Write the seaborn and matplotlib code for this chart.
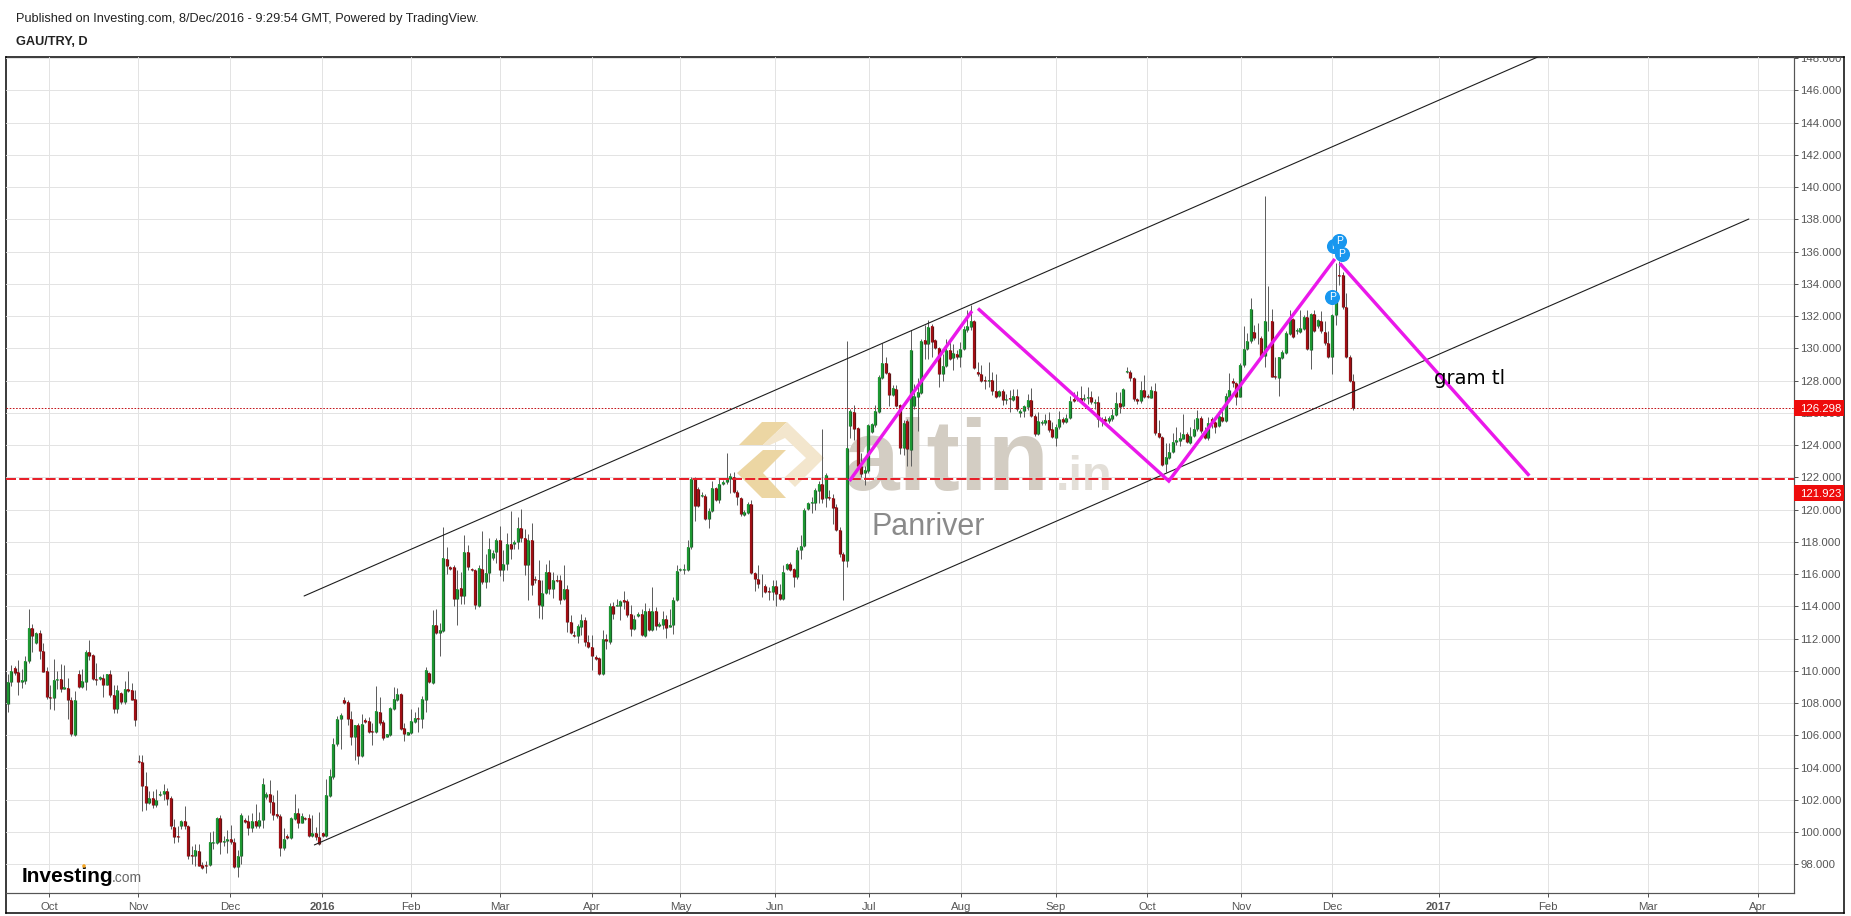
import numpy as np
import pandas as pd
import seaborn as sns
import matplotlib.pyplot as plt
from matplotlib.patches import Polygon, Rectangle, Circle
from matplotlib.transforms import Affine2D

W, H = 1851, 916

# daily candles
opens = [
    107.95, 109.30, 110.2, 109.9, 109.32, 109.36, 110.6, 112.67, 111.72, 112.36,
    111.25, 109.96, 108.38, 108.3, 109.4, 109.5, 108.87, 108.95, 108.2, 106.0,
    109.78, 108.97, 109.3, 111.16, 110.96, 109.5, 109.47, 109.57, 109.1, 109.78,
    108.5, 107.62, 108.6, 108.04, 108.89, 108.78, 108.26, 104.39, 104.35, 102.86,
    101.78, 102.14, 101.68, 102.3, 102.34, 102.55, 102.12, 100.31, 99.78, 100.4,
    100.71, 100.38, 98.58, 98.49, 98.84, 97.95, 97.95, 97.97, 99.32, 99.32,
    100.89, 99.38, 99.42, 99.59, 99.37, 97.83, 98.54, 100.77, 100.71, 100.26,
    100.67, 100.38, 100.77, 102.18, 102.33, 101.85, 101.1, 100.98, 99.01, 99.74,
    99.64, 100.82, 101.15, 100.57, 100.88, 100.84, 99.76, 99.93, 99.7, 99.93,
    99.76, 102.24, 103.42, 105.43, 106.99, 108.17, 108.04, 106.99, 105.91, 106.61,
    104.71, 106.94, 106.86, 106.26, 106.22, 107.44, 106.8, 105.91, 106.01, 107.65,
    108.21, 108.56, 106.43, 106.03, 106.16, 106.82, 107.07, 106.99, 108.19, 109.84,
    109.26, 112.82, 112.37, 112.49, 116.92, 116.45, 116.43, 114.45, 115.16, 114.64,
    117.39, 116.33, 116.27, 114.04, 116.33, 115.51, 116.07, 116.98, 117.37, 118.14,
    116.25, 116.63, 117.89, 117.89, 117.99, 118.88, 118.26, 116.56, 118.14, 115.71,
    115.65, 114.0, 114.84, 116.15, 115.07, 115.65, 115.65, 114.43, 115.05, 113.0,
    112.19, 112.13, 112.71, 113.17, 111.8, 111.49, 110.83, 110.77, 109.79, 111.99,
    111.78, 114.04, 114.02, 114.02, 114.37, 114.31, 113.5, 112.57, 113.42, 113.5,
    112.13, 113.73, 112.55, 113.69, 112.8, 112.84, 113.19, 112.73, 112.84, 114.41,
    116.25, 116.28, 116.28, 117.69, 121.91, 121.25, 120.87, 120.87, 119.42, 119.94,
    121.31, 120.58, 121.58, 121.7, 121.91, 122.05, 121.08, 120.71, 119.69, 119.8,
    120.33, 116.07, 115.72, 115.41, 115.24, 114.93, 114.89, 115.26, 114.79, 114.46,
    116.32, 116.65, 116.3, 115.82, 117.52, 117.75, 120.05, 120.38, 120.42, 121.16,
    121.58, 120.69, 120.75, 120.71, 120.17, 118.76, 117.27, 116.82, 125.18, 126.07,
    125.04, 122.7, 122.28, 122.39, 124.83, 125.26, 126.07, 128.18, 129.07, 128.49,
    127.13, 127.46, 126.46, 123.81, 125.48, 123.72, 126.45, 127.01, 127.26, 130.49,
    130.26, 131.36, 130.49, 130.01, 128.4, 128.92, 129.87, 129.39, 129.66, 129.45,
    129.97, 131.11, 131.32, 131.67, 128.56, 128.42, 128.02, 127.98, 128.05, 127.38,
    127.03, 127.36, 126.82, 126.91, 126.82, 127.05, 126.0, 126.1, 126.39, 126.82,
    125.79, 124.67, 125.37, 125.37, 125.56, 125.0, 124.44, 125.11, 125.64, 125.42,
    125.69, 126.84, 126.87, 126.93, 126.87, 126.91, 126.99, 126.64, 126.68, 125.64,
    125.6, 125.5, 125.62, 125.89, 126.6, 126.41, 128.54, 128.52, 128.17, 126.84,
    126.72, 127.4, 127.05, 126.95, 127.34, 124.73, 124.53, 122.81, 123.18, 123.55,
    124.19, 124.28, 124.4, 124.67, 124.11, 124.59, 124.98, 125.71, 124.9, 124.42,
    125.64, 125.42, 125.17, 125.77, 125.5, 127.01, 127.96, 127.84, 127.01, 128.94,
    129.95, 130.45, 130.99, 130.67, 130.63, 129.52, 131.67, 131.71, 128.27, 128.19,
    129.43, 129.72, 130.92, 131.81, 131.05, 131.03, 131.23, 131.96, 129.87, 132.12,
    131.36, 131.71, 131.01, 130.32, 129.49, 132.06, 134.57, 134.53, 132.56, 129.49,
    128.0,
]
closes = [
    109.30, 109.98, 109.86, 109.3, 109.4, 110.63, 112.67, 112.16, 112.36, 111.23,
    109.92, 108.35, 108.33, 109.4, 109.5, 108.87, 109.0, 108.2, 106.05, 108.2,
    109.0, 109.34, 111.16, 110.9, 109.47, 109.42, 109.6, 109.11, 109.78, 108.47,
    107.62, 108.82, 108.06, 108.89, 108.74, 108.22, 106.92, 104.35, 102.84, 101.78,
    102.14, 101.66, 101.99, 102.36, 102.55, 102.07, 100.36, 99.71, 99.71, 100.71,
    100.36, 98.53, 98.49, 98.89, 97.91, 97.77, 97.89, 99.38, 99.38, 100.89,
    99.36, 99.47, 99.57, 99.37, 97.83, 98.54, 101.04, 100.65, 100.22, 100.67,
    100.38, 100.77, 103.01, 102.33, 101.85, 101.04, 100.98, 99.01, 99.59, 99.64,
    100.84, 101.15, 100.57, 100.98, 100.82, 99.76, 99.93, 99.68, 99.26, 99.76,
    102.27, 103.47, 105.49, 106.99, 107.25, 108.0, 106.99, 105.91, 106.61, 104.71,
    106.67, 106.82, 106.22, 106.2, 107.48, 106.74, 105.83, 106.05, 107.69, 108.23,
    108.56, 106.39, 106.07, 106.18, 106.86, 107.07, 106.99, 108.23, 110.03, 109.28,
    112.82, 112.37, 112.51, 116.99, 116.47, 116.34, 114.48, 115.09, 114.64, 117.39,
    116.44, 116.27, 114.06, 116.4, 115.51, 116.09, 117.58, 117.33, 118.14, 116.25,
    116.65, 117.89, 117.56, 118.01, 118.88, 118.26, 116.58, 118.14, 115.32, 115.61,
    114.08, 114.84, 116.15, 115.07, 115.65, 115.57, 114.39, 115.05, 113.02, 112.34,
    112.13, 112.75, 113.17, 111.76, 111.47, 110.91, 110.72, 109.79, 111.99, 111.84,
    114.04, 113.5, 114.06, 114.33, 114.29, 113.46, 112.57, 113.19, 113.5, 112.19,
    113.73, 112.51, 113.73, 112.75, 112.88, 113.19, 112.67, 112.86, 114.41, 116.21,
    116.29, 116.32, 117.69, 121.91, 120.23, 120.23, 120.92, 119.42, 119.94, 121.31,
    120.6, 121.58, 121.72, 121.93, 122.07, 121.08, 120.75, 119.71, 119.84, 120.36,
    116.07, 115.72, 115.37, 115.37, 114.89, 114.87, 115.28, 114.75, 114.46, 116.15,
    116.65, 116.28, 115.82, 117.52, 117.77, 120.0, 120.4, 120.48, 121.2, 121.58,
    120.63, 122.12, 120.69, 120.11, 118.72, 117.23, 116.82, 123.79, 126.11, 125.0,
    122.7, 122.2, 122.43, 125.22, 125.28, 126.09, 128.22, 129.07, 128.49, 127.11,
    127.52, 126.42, 123.81, 125.39, 123.76, 129.87, 127.03, 127.28, 130.47, 130.28,
    131.32, 130.39, 130.01, 128.38, 128.89, 129.87, 129.31, 129.72, 129.45, 129.97,
    131.17, 131.36, 131.67, 128.81, 128.4, 127.98, 127.96, 128.05, 127.34, 127.01,
    127.38, 126.8, 126.87, 126.84, 127.05, 126.22, 126.12, 126.43, 126.82, 125.79,
    124.67, 125.5, 125.44, 125.56, 124.92, 124.48, 125.13, 125.62, 125.42, 125.71,
    126.76, 126.74, 126.93, 126.72, 126.93, 126.99, 126.66, 126.7, 125.62, 125.52,
    125.5, 125.69, 125.89, 126.6, 126.39, 127.47, 128.58, 128.15, 126.84, 126.72,
    127.4, 126.97, 126.99, 127.42, 124.73, 124.53, 122.77, 123.24, 123.55, 124.22,
    124.3, 124.42, 124.67, 124.22, 124.57, 125.0, 125.71, 124.9, 124.46, 125.35,
    125.35, 125.15, 125.81, 125.5, 127.03, 127.42, 127.82, 127.01, 128.96, 129.95,
    130.45, 132.43, 130.63, 130.63, 129.49, 131.71, 131.71, 128.25, 128.21, 129.45,
    129.76, 130.94, 131.81, 130.72, 131.11, 131.25, 131.96, 129.95, 132.12, 131.07,
    131.73, 131.05, 130.3, 129.49, 132.06, 132.91, 134.51, 132.56, 129.49, 128.0,
    126.29,
]
highs = [
    109.82, 110.34, 110.29, 110.69, 110.13, 110.9, 113.81, 112.92, 112.4, 112.5,
    111.74, 110.23, 109.1, 110.75, 110.0, 110.44, 110.38, 109.57, 108.37, 108.74,
    110.07, 110.13, 111.3, 111.9, 111.06, 110.48, 109.7, 109.8, 109.8, 110.07,
    109.1, 109.1, 108.68, 109.34, 109.96, 109.26, 108.78, 104.75, 104.8, 103.75,
    102.57, 102.57, 102.67, 102.57, 102.99, 102.74, 102.26, 100.81, 100.4, 100.77,
    101.64, 100.46, 99.16, 99.26, 99.26, 98.12, 98.22, 100.02, 100.08, 100.96,
    101.06, 99.78, 100.13, 100.42, 99.6, 98.87, 101.15, 100.84, 101.04, 101.15,
    101.73, 101.25, 103.36, 102.49, 103.22, 102.29, 102.6, 101.1, 100.22, 99.9,
    100.94, 102.39, 101.46, 101.15, 100.94, 101.1, 101.04, 100.32, 101.25, 100.0,
    103.26, 103.9, 105.85, 107.19, 107.36, 108.35, 108.19, 107.5, 106.63, 106.74,
    107.32, 107.05, 107.15, 106.74, 109.06, 108.39, 106.94, 106.07, 107.77, 108.97,
    108.91, 108.6, 106.74, 106.22, 107.61, 107.46, 107.77, 108.43, 110.22, 109.9,
    113.78, 113.82, 112.95, 118.91, 117.67, 116.47, 116.57, 116.23, 116.13, 118.41,
    117.78, 116.38, 116.33, 116.58, 118.65, 117.27, 118.24, 117.47, 118.26, 118.96,
    117.47, 118.57, 119.9, 118.1, 119.54, 120.02, 118.82, 118.51, 119.19, 115.86,
    116.85, 115.65, 116.65, 116.85, 116.13, 115.92, 115.92, 116.54, 115.3, 113.44,
    112.46, 112.88, 113.54, 113.33, 112.24, 112.19, 110.95, 110.85, 112.51, 112.3,
    114.2, 114.26, 114.43, 114.41, 114.95, 114.47, 114.06, 113.44, 113.64, 113.85,
    114.2, 113.91, 115.2, 113.95, 113.02, 113.69, 113.44, 113.81, 114.58, 116.54,
    116.4, 116.65, 118.1, 122.03, 121.99, 121.37, 121.06, 120.96, 120.11, 121.76,
    121.41, 121.93, 121.83, 123.48, 122.28, 122.34, 121.2, 120.79, 119.96, 120.48,
    120.58, 116.13, 116.55, 115.99, 115.37, 115.2, 115.66, 115.61, 115.37, 116.55,
    116.69, 116.75, 116.4, 117.69, 118.41, 120.11, 120.48, 120.79, 121.35, 121.78,
    125.0, 122.24, 121.2, 120.96, 120.33, 118.93, 117.37, 130.46, 126.22, 126.48,
    125.14, 123.48, 122.7, 125.28, 125.39, 126.48, 128.35, 130.31, 129.45, 128.55,
    127.73, 127.73, 126.55, 125.55, 125.62, 131.11, 127.8, 128.17, 130.59, 131.42,
    131.77, 131.48, 130.59, 130.07, 129.66, 130.59, 130.59, 130.28, 129.87, 130.39,
    131.36, 132.35, 132.66, 131.73, 129.14, 128.94, 128.31, 129.14, 128.52, 128.42,
    127.42, 127.49, 127.18, 127.42, 127.49, 127.49, 126.24, 126.51, 127.18, 127.55,
    125.93, 126.04, 125.56, 125.93, 126.04, 125.42, 125.31, 126.14, 125.73, 125.93,
    127.07, 127.28, 127.38, 127.69, 127.18, 127.63, 127.38, 126.87, 127.07, 125.73,
    125.83, 125.83, 126.24, 127.28, 127.28, 127.55, 128.87, 128.63, 128.25, 126.91,
    128.0, 128.36, 127.18, 127.69, 127.84, 125.56, 124.57, 124.11, 124.11, 124.73,
    125.11, 124.84, 125.93, 124.84, 125.11, 125.6, 126.18, 125.81, 125.11, 125.77,
    125.77, 125.52, 125.98, 126.39, 127.22, 128.46, 128.15, 127.94, 129.08, 131.4,
    130.94, 133.12, 131.46, 131.57, 130.74, 139.47, 133.84, 132.43, 129.49, 129.49,
    129.91, 131.05, 132.35, 131.88, 131.25, 132.39, 132.08, 132.39, 132.19, 132.35,
    131.81, 132.29, 131.67, 131.05, 132.14, 135.29, 135.4, 134.71, 133.43, 129.56,
    128.4,
]
lows = [
    107.44, 109.03, 109.71, 108.51, 108.93, 109.2, 110.48, 111.16, 111.68, 110.75,
    109.9, 108.27, 107.6, 107.54, 108.9, 108.68, 108.87, 107.02, 105.95, 105.95,
    108.95, 108.93, 108.78, 110.65, 109.4, 109.1, 109.4, 108.4, 109.09, 108.4,
    107.37, 107.37, 107.95, 107.95, 108.68, 108.16, 106.6, 104.29, 101.29, 101.37,
    101.74, 101.47, 101.54, 102.26, 102.01, 101.66, 100.19, 99.3, 99.36, 100.19,
    100.19, 98.33, 98.0, 97.91, 97.87, 97.71, 97.44, 97.91, 98.95, 99.26,
    98.64, 99.16, 98.7, 99.28, 97.79, 97.21, 98.0, 100.59, 99.8, 100.0,
    100.22, 100.22, 100.28, 102.08, 101.19, 100.73, 100.84, 98.52, 98.87, 99.59,
    99.55, 100.73, 100.28, 100.53, 100.77, 99.7, 99.7, 99.49, 99.18, 99.7,
    99.7, 102.18, 103.32, 105.33, 105.18, 107.92, 106.63, 105.39, 104.46, 104.25,
    104.63, 106.74, 106.12, 105.39, 106.16, 106.63, 105.7, 105.87, 105.95, 107.57,
    108.15, 106.32, 105.66, 105.99, 106.07, 106.74, 106.22, 106.43, 107.42, 109.22,
    109.16, 112.29, 110.94, 112.43, 115.99, 116.26, 114.03, 112.82, 114.16, 114.16,
    116.23, 116.19, 113.85, 113.95, 115.4, 115.16, 115.51, 116.85, 116.69, 115.88,
    115.55, 116.23, 116.96, 117.58, 117.54, 117.99, 115.94, 114.37, 114.68, 115.47,
    113.29, 113.21, 114.74, 114.78, 114.51, 115.51, 114.16, 114.37, 112.4, 112.3,
    112.09, 111.72, 112.19, 111.53, 111.41, 110.08, 110.64, 109.75, 109.75, 111.33,
    111.68, 113.23, 114.0, 113.17, 113.85, 113.33, 112.13, 112.51, 113.33, 112.13,
    112.09, 112.44, 112.46, 112.51, 112.71, 112.61, 112.03, 112.71, 112.3, 114.33,
    116.2, 116.03, 116.19, 117.58, 119.3, 120.17, 120.75, 119.34, 118.87, 119.86,
    120.54, 120.38, 121.52, 121.58, 121.0, 121.0, 120.27, 119.59, 119.61, 119.71,
    116.03, 114.95, 115.16, 114.58, 114.83, 114.41, 114.41, 114.0, 114.41, 114.41,
    116.24, 116.19, 115.2, 115.72, 116.96, 117.69, 119.96, 119.76, 119.96, 120.38,
    120.42, 120.17, 120.58, 119.13, 118.66, 117.06, 114.37, 116.44, 124.41, 124.31,
    122.65, 122.03, 121.52, 122.24, 124.72, 125.14, 126.0, 128.1, 128.41, 126.42,
    127.04, 126.34, 123.44, 123.38, 122.68, 122.68, 126.24, 124.9, 127.18, 129.35,
    129.35, 129.45, 129.97, 127.59, 127.96, 128.83, 129.25, 128.67, 129.35, 128.87,
    129.87, 131.0, 131.11, 128.73, 128.31, 127.9, 127.49, 127.59, 127.13, 126.93,
    126.97, 126.51, 126.55, 126.04, 126.76, 126.14, 125.73, 125.73, 126.18, 125.73,
    124.59, 124.61, 125.27, 125.27, 124.8, 124.44, 123.97, 125.0, 125.31, 125.35,
    125.62, 126.66, 126.76, 126.62, 126.76, 126.55, 126.55, 126.24, 125.15, 125.21,
    125.31, 125.35, 125.52, 125.83, 126.0, 126.35, 128.5, 128.0, 126.76, 126.55,
    126.64, 126.91, 126.93, 126.91, 124.63, 124.42, 122.7, 122.35, 123.12, 123.49,
    124.01, 123.95, 124.36, 124.11, 124.07, 124.48, 124.9, 124.77, 124.36, 124.32,
    125.04, 124.77, 125.11, 125.46, 125.42, 126.91, 127.63, 126.49, 126.97, 128.87,
    129.91, 130.36, 130.53, 130.28, 129.43, 128.87, 131.05, 128.21, 128.09, 127.07,
    129.35, 129.66, 130.84, 130.63, 130.9, 130.94, 131.15, 129.89, 128.71, 130.99,
    131.25, 130.94, 130.22, 129.43, 128.42, 131.46, 133.95, 132.43, 129.43, 127.94,
    126.18,
]

price_ticks = list(range(98, 150, 2))
month_labels = ['Oct', 'Nov', 'Dec', '2016', 'Feb', 'Mar', 'Apr', 'May', 'Jun', 'Jul',
                'Aug', 'Sep', 'Oct', 'Nov', 'Dec', '2017', 'Feb', 'Mar', 'Apr']
month_bars = [11.8, 36.9, 62.9, 88.8, 113.8, 138.9, 164.9, 190.0, 216.8, 243.2,
              269.2, 296.0, 321.8, 348.3, 374.1, 404.1, 435.0, 463.1, 494.2]

last_price = 126.298
support_price = 121.923

channel_upper_bar = [83.7, 432.4]
channel_upper_price = [114.64, 148.1]
channel_lower_bar = [86.6, 491.7]
channel_lower_price = [99.2, 138.02]

zigzag_bars = [[237.7, 272.3], [274.0, 327.9, 374.8], [376.2, 429.7]]
zigzag_prices = [[121.77, 132.31], [132.47, 121.77, 135.54], [135.27, 122.1]]

pin_bars = [374.6, 376.0, 376.8, 374.1]
pin_prices = [136.34, 136.67, 135.83, 133.2]

GREEN, GREEN_EDGE = '#1e9e34', '#1c5f2a'
RED, RED_EDGE = '#a80f14', '#5e1416'
GREY = '#555555'
MAGENTA = '#ea18ea'

px = 0.72  # one picture pixel in points at dpi 100


def candle_frames():
    bars = np.arange(len(opens))
    candles = pd.DataFrame({'bar': bars, 'open': opens, 'high': highs, 'low': lows, 'close': closes})
    candles['up'] = candles['close'] >= candles['open']
    wicks = candles.melt(id_vars=['bar'], value_vars=['high', 'low'], value_name='price')
    bodies = candles.melt(id_vars=['bar', 'up'], value_vars=['open', 'close'], value_name='price')
    return wicks, bodies


def plot_candles(ax):
    wicks, bodies = candle_frames()
    sns.lineplot(data=wicks, x='bar', y='price', units='bar', estimator=None, color='#5f5f5f',
                 lw=1 * px, solid_capstyle='butt', legend=False, zorder=3, ax=ax)
    sns.lineplot(data=bodies, x='bar', y='price', units='bar', estimator=None, hue='up',
                 palette={True: GREEN_EDGE, False: RED_EDGE}, lw=3.2 * px, solid_capstyle='butt',
                 legend=False, zorder=3.1, ax=ax)
    sns.lineplot(data=bodies, x='bar', y='price', units='bar', estimator=None, hue='up',
                 palette={True: GREEN, False: RED}, lw=1.8 * px, solid_capstyle='butt',
                 legend=False, zorder=3.2, ax=ax)


def plot_drawings(ax):
    ax.axhline(last_price, color='#c4161c', lw=1 * px, dashes=(1.6, 1.6), zorder=2.5)
    ax.axhline(support_price, color='#e8202a', lw=2 * px, dashes=(5, 1.6), zorder=4)
    for xs, ys in [(channel_upper_bar, channel_upper_price), (channel_lower_bar, channel_lower_price)]:
        sns.lineplot(x=xs, y=ys, color='#1c1c1c', lw=1.1 * px, estimator=None, zorder=4, ax=ax)
    for xs, ys in zip(zigzag_bars, zigzag_prices):
        sns.lineplot(x=xs, y=ys, sort=False, color=MAGENTA, lw=3.4 * px, estimator=None,
                     solid_capstyle='butt', solid_joinstyle='miter', zorder=5, ax=ax)
    for i, (x, y) in enumerate(zip(pin_bars, pin_prices)):
        sns.scatterplot(x=[x], y=[y], s=118, color='#1897ef', linewidth=0, zorder=6 + i * 0.1, ax=ax)
        ax.text(x, y, 'P', color='white', fontsize=7.5, ha='center', va='center', zorder=6.05 + i * 0.1)


def plot_watermark(fig, ax):
    to_px = Affine2D().scale(1, -1).translate(0, H)
    shapes = [
        ('#ecd6a3', [(739, 445), (762, 422), (787, 422), (763, 445)]),
        ('#ecd6a3', [(737, 473), (763, 450), (786, 450), (763, 473), (786, 498), (762, 498)]),
        ('#f3e6cd', [(787, 422), (824, 458), (795, 487), (785, 477), (806, 458), (785, 438), (770, 445), (763, 445)]),
    ]
    for colour, pts in shapes:
        ax.add_patch(Polygon(pts, closed=True, facecolor=colour, edgecolor='none', transform=to_px, zorder=1))
    ax.text(843 / W, 1 - 490 / H, 'altin', transform=fig.transFigure, fontsize=72, weight='bold',
            color='#d3cdc3', va='baseline', zorder=1)
    ax.text(1056 / W, 1 - 490 / H, '.in', transform=fig.transFigure, fontsize=35, weight='bold',
            color='#e3dfd8', va='baseline', zorder=1)
    ax.text(871 / W, 1 - 535 / H, 'Panriver', transform=fig.transFigure, fontsize=22,
            color='#8a8a8a', va='baseline', zorder=1)
    ax.text(1433.5 / W, 1 - 384 / H, 'gram tl', transform=fig.transFigure, fontsize=14.1,
            family='DejaVu Sans', color='black', va='baseline', zorder=7)
    # broker logo, bottom left
    ax.text(22 / W, 1 - 881.5 / H, 'Investing', transform=fig.transFigure, fontsize=15, weight='bold',
            color='black', va='baseline', zorder=7)
    ax.text(112 / W, 1 - 881.5 / H, '.com', transform=fig.transFigure, fontsize=10,
            color='#666666', va='baseline', zorder=7)
    ax.add_patch(Circle((84, 866), 1.8, facecolor='#f5a623', edgecolor='none', transform=to_px, zorder=7))


def price_label(fig, text, top, bottom):
    fig.add_artist(Rectangle((1794 / W, 1 - bottom / H), 50 / W, (bottom - top) / H, facecolor='#ee0b0b',
                             edgecolor='none', transform=fig.transFigure, zorder=8))
    fig.text(1800 / W, 1 - (top + bottom) / 2 / H, text, color='white', fontsize=8.2, va='center_baseline',
             zorder=9)


def plot_chart():
    fig = plt.figure(figsize=(W / 100, H / 100), dpi=100, facecolor='white')

    frame = fig.add_axes([6 / W, 1 - 913 / H, 1838 / W, 856.5 / H])
    frame.set(xticks=[], yticks=[])
    frame.grid(False)
    for spine in frame.spines.values():
        spine.set(color='black', lw=1.5 * px, visible=True)

    ax = fig.add_axes([6 / W, 1 - 892.5 / H, 1788 / W, 836 / H])
    ax.patch.set_alpha(0)
    plot_watermark(fig, ax)
    plot_candles(ax)
    plot_drawings(ax)

    ax.set(xlim=(-0.48, 504.46), ylim=(96.25, 148.1), xlabel='', ylabel='')
    ax.set_axisbelow(True)
    ax.grid(True, color='#e3e3e3', lw=1 * px)
    for name in ['top', 'left']:
        ax.spines[name].set_visible(False)
    for name in ['right', 'bottom']:
        ax.spines[name].set(visible=True, color=GREY, lw=1.2 * px)

    ax.yaxis.tick_right()
    ax.set_yticks(price_ticks, [f'{v}.000' for v in price_ticks])
    ax.set_xticks(month_bars, month_labels)
    ax.tick_params(axis='both', length=4 * px, width=1 * px, color=GREY, labelcolor=GREY, labelsize=8.2,
                   bottom=True, right=True, left=False, labelbottom=True, labelright=True, labelleft=False)
    ax.tick_params(axis='y', pad=2 * px)
    ax.tick_params(axis='x', pad=5 * px)
    for label in ax.get_xticklabels():
        if label.get_text() in ('2016', '2017'):
            label.set_weight('bold')
    for label in ax.get_yticklabels():
        label.set_clip_box(frame.bbox)
        label.set_clip_on(True)

    price_label(fig, '126.298', 400, 416)
    price_label(fig, '121.923', 485, 501)

    fig.text(15.5 / W, 1 - 22 / H, 'Published on Investing.com, 8/Dec/2016 - 9:29:54 GMT, Powered by TradingView.',
             fontsize=9.2, color='#222222', va='baseline')
    fig.text(15.5 / W, 1 - 45 / H, 'GAU/TRY, D', fontsize=9.2, weight='bold', color='#222222', va='baseline')
    return fig


if __name__ == '__main__':
    sns.set_theme(style='white')
    plt.rcParams['font.family'] = ['Liberation Sans', 'DejaVu Sans']
    plot_chart().savefig('out.png', dpi=100)
